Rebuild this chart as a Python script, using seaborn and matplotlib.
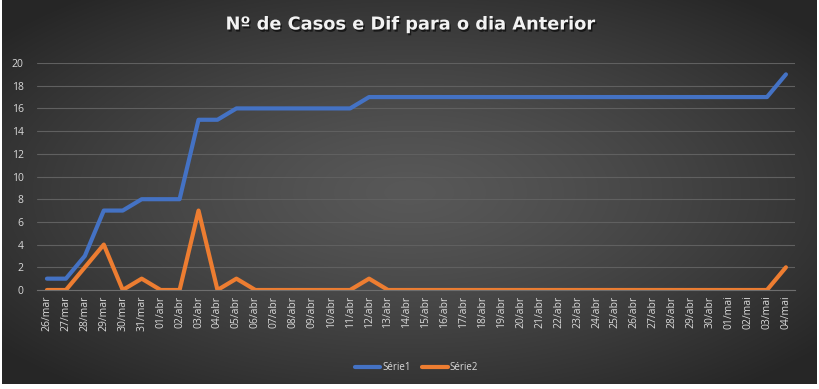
import numpy as np
import pandas as pd
import matplotlib.pyplot as plt
import matplotlib.patheffects as pe
import seaborn as sns

# dates on the x axis
dias = (['%02d/mar' % d for d in range(26, 32)] +
        ['%02d/abr' % d for d in range(1, 31)] +
        ['%02d/mai' % d for d in range(1, 5)])

# Série1: accumulated cases
serie1 = [1, 1, 3, 7, 7, 8, 8, 8, 15, 15, 16, 16, 16, 16, 16, 16, 16, 17,
          17, 17, 17, 17, 17, 17, 17, 17, 17, 17, 17, 17, 17, 17, 17, 17,
          17, 17, 17, 17, 17, 19]
# Série2: difference to previous day
serie2 = [0, 0, 2, 4, 0, 1, 0, 0, 7, 0, 1, 0, 0, 0, 0, 0, 0, 1,
          0, 0, 0, 0, 0, 0, 0, 0, 0, 0, 0, 0, 0, 0, 0, 0,
          0, 0, 0, 0, 0, 2]

df = pd.DataFrame({
    'idx': list(range(len(dias))) * 2,
    'valor': serie1 + serie2,
    'serie': ['Série1'] * len(dias) + ['Série2'] * len(dias),
})

sns.set_theme(style='white')
plt.rcParams['font.family'] = ['Open Sans', 'DejaVu Sans']

fig = plt.figure(figsize=(8.2, 3.89), dpi=100, facecolor='white')

# radial gradient background like the excel chart style
bg = fig.add_axes([0.003, 0.013, 0.993, 0.987])
h, w = 384, 815
yy, xx = np.mgrid[0:h, 0:w]
r = np.sqrt(((xx - w / 2) / (w / 2)) ** 2 + ((yy - h / 2) / (h / 2)) ** 2)
r = np.clip(r / 1.3, 0, 1)
c = 0.345 - (0.345 - 0.15) * r ** 1.3
bg.imshow(np.dstack([c, c, c]), aspect='auto', interpolation='bilinear')
bg.axis('off')

ax = fig.add_axes([0.0457, 0.2545, 0.9243, 0.5835])
ax.set_facecolor('none')
ax.patch.set_alpha(0)

sns.lineplot(data=df, x='idx', y='valor', hue='serie', ax=ax,
             palette={'Série1': '#4472C4', 'Série2': '#ED7D31'},
             linewidth=3.0, solid_capstyle='round', solid_joinstyle='round')

ax.set_xlim(-0.5, len(dias) - 0.5)
ax.set_ylim(0, 20)
ax.set_yticks(range(0, 21, 2))
ax.set_xticks(range(len(dias)))
ax.set_xticklabels(dias, rotation=90)
ax.set_xticks(np.arange(-0.5, len(dias), 1), minor=True)
ax.tick_params(axis='x', which='major', length=0, pad=4, labelsize=7.5,
               labelcolor='#d9d9d9')
ax.tick_params(axis='x', which='minor', length=4, color='#6e6e6e', width=0.8)
ax.tick_params(axis='y', length=0, pad=10, labelsize=7.5, labelcolor='#d9d9d9')
ax.grid(axis='y', color='#606060', linewidth=0.8)
ax.set_axisbelow(True)
for s in ['top', 'right', 'left']:
    ax.spines[s].set_visible(False)
ax.spines['bottom'].set_color('#6e6e6e')
ax.spines['bottom'].set_linewidth(0.8)
ax.set_xlabel('')
ax.set_ylabel('')

leg = ax.legend(loc='upper center', bbox_to_anchor=(0.5, -0.28), ncol=2,
                frameon=False, fontsize=7, handlelength=2.6,
                columnspacing=1.2, handletextpad=0.2)
for t in leg.get_texts():
    t.set_color('#d9d9d9')

fig.text(0.5, 0.937, 'Nº de Casos e Dif para o dia Anterior', ha='center',
         va='center', fontsize=12.8, fontweight='bold', color='#f2f2f2',
         family='DejaVu Sans',
         path_effects=[pe.withSimplePatchShadow(offset=(1, -1.5),
                                                shadow_rgbFace='black',
                                                alpha=0.6)])

fig.savefig('out.png', dpi=100, facecolor='white')
